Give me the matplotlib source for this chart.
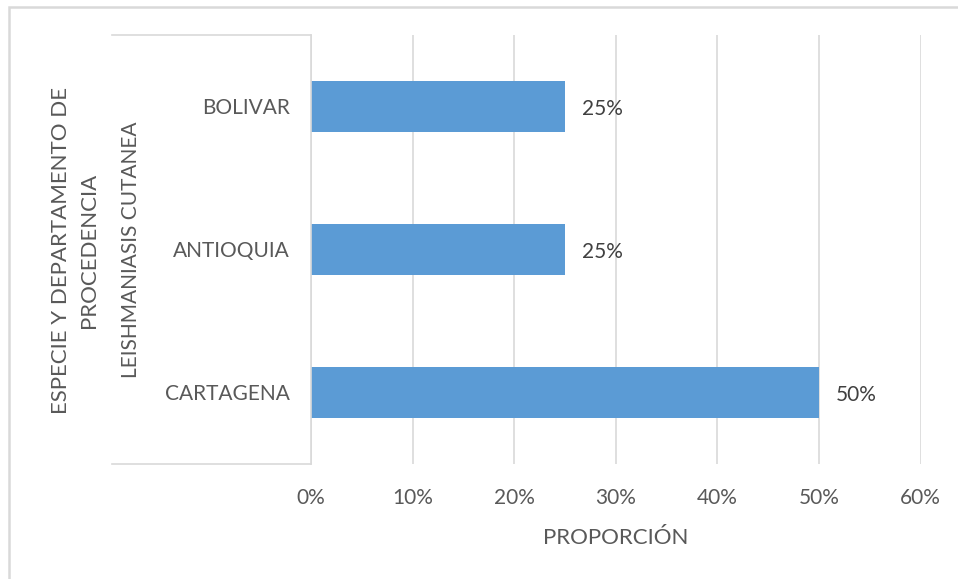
import matplotlib
matplotlib.use("Agg")
import matplotlib.pyplot as plt
import matplotlib.transforms as mtransforms
from matplotlib.lines import Line2D
from matplotlib.patches import Rectangle
from matplotlib.ticker import FuncFormatter

categories = ["CARTAGENA", "ANTIOQUIA", "BOLIVAR"]
values = [0.50, 0.25, 0.25]
x_ticks = [0, 0.1, 0.2, 0.3, 0.4, 0.5, 0.6]
group_label = "LEISHMANIASIS CUTANEA"
outer_label = "ESPECIE Y DEPARTAMENTO DE\nPROCEDENCIA"
x_label = "PROPORCIÓN"

plt.rcParams['font.family'] = ['Lato', 'DejaVu Sans']

W, H = 958, 579
fig = plt.figure(figsize=(W / 100, H / 100), dpi=100)

# chart frame
fig.patches.append(Rectangle((9 / W, -0.1), 1.2, 1 - 7 / H + 0.1, transform=fig.transFigure,
                             fill=False, edgecolor="#d9d9d9", linewidth=1.8))

left, right = 311 / W, 920.6 / W
top, bottom = 1 - 35 / H, 1 - 464 / H
ax = fig.add_axes([left, bottom, right - left, top - bottom])

ypos = list(range(len(categories)))
ax.barh(ypos, values, height=0.35, color="#5b9bd5", zorder=3)
ax.set_xlim(0, 0.6)
ax.set_ylim(-0.5, len(categories) - 0.5)
ax.set_xticks(x_ticks)
ax.xaxis.set_major_formatter(FuncFormatter(lambda v, p: f"{v*100:.0f}%"))
ax.set_yticks(ypos)
ax.set_yticklabels(categories)
ax.tick_params(axis='both', length=0, labelsize=15, labelcolor="#595959")
ax.tick_params(axis='y', pad=15)
ax.tick_params(axis='x', pad=17)
ax.grid(axis='x', color="#d9d9d9", linewidth=1.2, zorder=0)
for s in ["top", "right", "bottom"]:
    ax.spines[s].set_visible(False)
ax.spines["left"].set_color("#d9d9d9")
ax.spines["left"].set_linewidth(1.2)
ax.spines["left"].set_zorder(4)

for y, v in zip(ypos, values):
    ax.annotate(f"{v*100:.0f}%", (v, y), xytext=(12, -1.5), textcoords="offset points",
                ha="left", va="center", fontsize=15, color="#404040")

ax.set_xlabel(x_label, fontsize=16, color="#595959", labelpad=15)

# multi-level category bracket
xl = (112 - 311) / (920.6 - 311) * 0.6
blend = mtransforms.blended_transform_factory(ax.transData, ax.transAxes)
for yy in (0, 1):
    ax.add_line(Line2D([xl, 0], [yy, yy], transform=blend,
                       color="#d9d9d9", linewidth=1.2, clip_on=False))

fig.text(131 / W, 1 - 250 / H, group_label, rotation=90, ha="center", va="center",
         fontsize=15, color="#595959")
fig.text(75 / W, 1 - 250 / H, outer_label, rotation=90, ha="center", va="center",
         fontsize=16, color="#595959", multialignment="center", linespacing=1.45)

fig.savefig("out.png", dpi=100)
